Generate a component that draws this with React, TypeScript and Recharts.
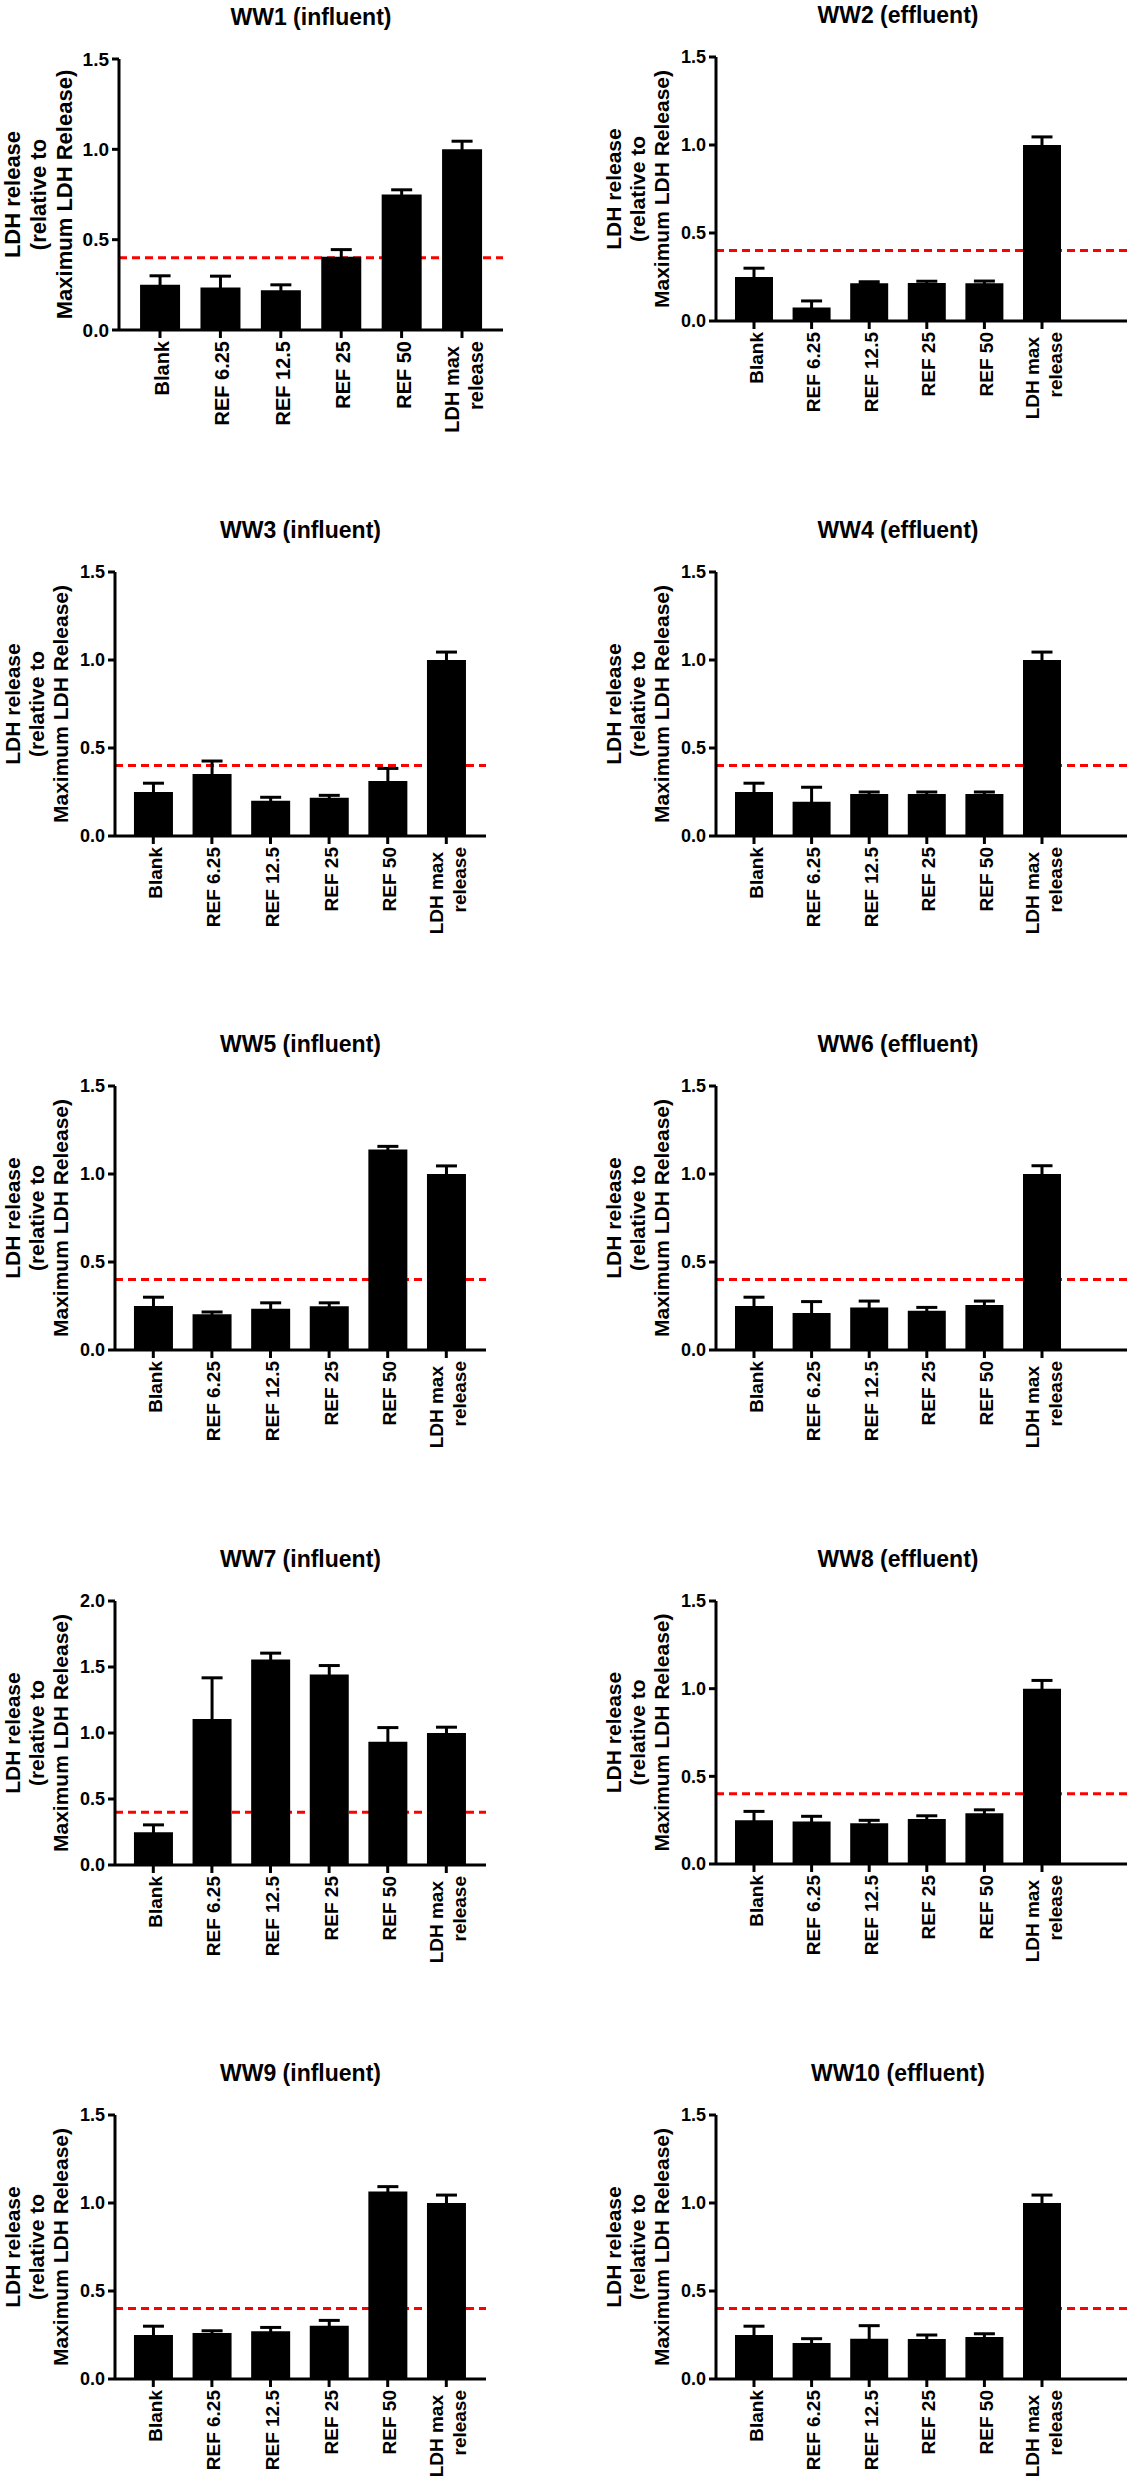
import React from "react";
import { BarChart, Bar, XAxis, YAxis, ErrorBar, ReferenceLine } from "recharts";

const FONT = "'Liberation Sans', Arial, Helvetica, sans-serif";
const PAGE_W = 1127;
const PAGE_H = 2482;

// Categories (x axis)
const categories = ["Blank", "REF 6.25", "REF 12.5", "REF 25", "REF 50", "LDH max\nrelease"];

// Mean values and SEM
const ww1Mean = [0.25, 0.235, 0.22, 0.405, 0.75, 1.0];
const ww1Err = [0.05, 0.063, 0.03, 0.04, 0.026, 0.045];
const ww2Mean = [0.25, 0.076, 0.215, 0.216, 0.215, 1.0];
const ww2Err = [0.05, 0.038, 0.008, 0.01, 0.012, 0.046];
const ww3Mean = [0.25, 0.352, 0.2, 0.218, 0.312, 1.0];
const ww3Err = [0.05, 0.074, 0.02, 0.013, 0.072, 0.045];
const ww4Mean = [0.25, 0.195, 0.239, 0.239, 0.239, 1.0];
const ww4Err = [0.05, 0.082, 0.011, 0.011, 0.011, 0.045];
const ww5Mean = [0.25, 0.203, 0.235, 0.249, 1.139, 1.0];
const ww5Err = [0.05, 0.013, 0.033, 0.019, 0.018, 0.046];
const ww6Mean = [0.25, 0.21, 0.241, 0.223, 0.256, 1.0];
const ww6Err = [0.05, 0.065, 0.037, 0.019, 0.022, 0.047];
const ww7Mean = [0.248, 1.106, 1.557, 1.443, 0.934, 1.0];
const ww7Err = [0.056, 0.312, 0.048, 0.068, 0.107, 0.044];
const ww8Mean = [0.25, 0.243, 0.232, 0.256, 0.29, 1.0];
const ww8Err = [0.05, 0.029, 0.017, 0.019, 0.019, 0.047];
const ww9Mean = [0.25, 0.261, 0.272, 0.303, 1.065, 1.0];
const ww9Err = [0.05, 0.013, 0.021, 0.03, 0.028, 0.045];
const ww10Mean = [0.25, 0.204, 0.229, 0.227, 0.238, 1.0];
const ww10Err = [0.05, 0.025, 0.074, 0.023, 0.019, 0.045];

// Axis ticks and threshold
const ticks15 = [0, 0.5, 1.0, 1.5];
const ticks20 = [0, 0.5, 1.0, 1.5, 2.0];
const threshold = 0.4;

const yLabelLines = ["LDH release", "(relative to", "Maximum LDH Release)"];

// layout: every chart gets the same svg size, plot area set through margins
const YW = 120; // y axis box width
const MT = 12; // top margin
const XH = 150; // x axis box height
const CW = 531; // chart width
const CH = 433; // chart height

const LEFT = { axisX: 115, right: 486, padL: 9, padR: 10.4, cx: 300.5 };
// right column runs off the page edge in the original figure
const RIGHT = { axisX: 716, right: 1127, padL: 9.2, padR: 56.2, cx: 898 };

type Panel = {
  id: string;
  title: string;
  mean: number[];
  err: number[];
  ticks: number[];
  top: number;
  bottom: number;
  axisX: number;
  right: number;
  padL: number;
  padR: number;
  cx: number;
  big?: boolean;
};

const panels: Panel[] = [
  { id: "ww1", title: "WW1 (influent)", mean: ww1Mean, err: ww1Err, ticks: ticks15, top: 59, bottom: 330, axisX: 119, right: 503, padL: 10.8, padR: 10.8, cx: 311, big: true },
  { id: "ww2", title: "WW2 (effluent)", mean: ww2Mean, err: ww2Err, ticks: ticks15, top: 57, bottom: 321, ...RIGHT },
  { id: "ww3", title: "WW3 (influent)", mean: ww3Mean, err: ww3Err, ticks: ticks15, top: 572, bottom: 836, ...LEFT },
  { id: "ww4", title: "WW4 (effluent)", mean: ww4Mean, err: ww4Err, ticks: ticks15, top: 572, bottom: 836, ...RIGHT },
  { id: "ww5", title: "WW5 (influent)", mean: ww5Mean, err: ww5Err, ticks: ticks15, top: 1086, bottom: 1350, ...LEFT },
  { id: "ww6", title: "WW6 (effluent)", mean: ww6Mean, err: ww6Err, ticks: ticks15, top: 1086, bottom: 1350, ...RIGHT },
  { id: "ww7", title: "WW7 (influent)", mean: ww7Mean, err: ww7Err, ticks: ticks20, top: 1601, bottom: 1865, ...LEFT },
  { id: "ww8", title: "WW8 (effluent)", mean: ww8Mean, err: ww8Err, ticks: ticks15, top: 1601, bottom: 1864, ...RIGHT },
  { id: "ww9", title: "WW9 (influent)", mean: ww9Mean, err: ww9Err, ticks: ticks15, top: 2115, bottom: 2379, ...LEFT },
  { id: "ww10", title: "WW10 (effluent)", mean: ww10Mean, err: ww10Err, ticks: ticks15, top: 2115, bottom: 2379, ...RIGHT },
];

const XTick = (props: any) => {
  const { x, y, payload, fs } = props;
  const lines = String(payload.value).split("\n");
  const gap = fs * 1.2;
  return (
    <g transform={`translate(${x},${y})`}>
      {lines.map((t: string, i: number) => {
        const b = fs * 0.45 + (i - (lines.length - 1) / 2) * gap;
        const endOff = lines.length > 1 && i === 0 ? 5 : 0;
        return (
          <text
            key={i}
            transform="rotate(-90)"
            x={-endOff}
            y={b}
            textAnchor="end"
            fontSize={fs}
            fontWeight="bold"
            fontFamily={FONT}
            fill="#000"
          >
            {t}
          </text>
        );
      })}
    </g>
  );
};

const YLabel = ({ cy, fs, offs }: { cy: number; fs: number; offs: number[] }) => (
  <g>
    {yLabelLines.map((t, i) => (
      <text
        key={i}
        transform={`translate(${YW + offs[i]},${cy}) rotate(-90)`}
        textAnchor="middle"
        fontSize={fs}
        fontWeight="bold"
        fontFamily={FONT}
        fill="#000"
      >
        {t}
      </text>
    ))}
  </g>
);

const PanelChart = ({ p }: { p: Panel }) => {
  const data = categories.map((name, i) => ({ name, mean: p.mean[i], err: p.err[i] }));
  const plotH = p.bottom - p.top;
  const plotW = p.right - p.axisX;
  const yMax = p.ticks[p.ticks.length - 1];
  const tickFs = p.big ? 19 : 18;
  const xFs = p.big ? 20 : 19;
  const labelFs = p.big ? 22 : 21;
  const offs = p.big ? [-99, -73, -47] : [-95, -71, -47];
  const chartTop = p.top - MT;
  const mr = CW - YW - plotW;
  const mb = CH - MT - plotH - XH;
  return (
    <>
      <div
        style={{
          position: "absolute",
          left: p.cx - 200,
          width: 400,
          top: p.top - 34 - 19.5,
          textAlign: "center",
          fontFamily: FONT,
          fontWeight: "bold",
          fontSize: 23,
          lineHeight: "23px",
          color: "#000",
        }}
      >
        {p.title}
      </div>
      <div style={{ position: "absolute", left: p.axisX - YW, top: chartTop, width: CW, height: CH }}>
        <BarChart
          id={`chart-${p.id}`}
          width={CW}
          height={CH}
          data={data}
          margin={{ top: MT, right: mr, bottom: mb, left: 0 }}
          barCategoryGap="17%"
        >
          <XAxis
            dataKey="name"
            type="category"
            height={XH}
            padding={{ left: p.padL, right: p.padR }}
            axisLine={{ stroke: "#000", strokeWidth: 3 }}
            tickLine={{ stroke: "#000", strokeWidth: 3 }}
            tickSize={8}
            tickMargin={3}
            interval={0}
            tick={(tp: any) => <XTick {...tp} fs={xFs} />}
          />
          <YAxis
            type="number"
            domain={[0, yMax]}
            ticks={p.ticks}
            width={YW}
            interval={0}
            tickFormatter={(v: number) => v.toFixed(1)}
            axisLine={{ stroke: "#000", strokeWidth: 3 }}
            tickLine={{ stroke: "#000", strokeWidth: 3 }}
            tickSize={7}
            tickMargin={3}
            tick={{ fill: "#000", fontSize: tickFs, fontWeight: "bold", fontFamily: FONT }}
            label={<YLabel cy={MT + plotH / 2} fs={labelFs} offs={offs} />}
          />
          <ReferenceLine
            y={threshold}
            stroke="#ff0000"
            strokeWidth={3}
            strokeDasharray="8 5"
            ifOverflow="visible"
            zIndex={250}
          />
          <Bar dataKey="mean" fill="#000" isAnimationActive={false}>
            <ErrorBar dataKey="err" direction="y" width={10.5} stroke="#000" strokeWidth={3} />
          </Bar>
        </BarChart>
      </div>
    </>
  );
};

export default function App() {
  return (
    <div
      style={{
        position: "absolute",
        left: 0,
        top: 0,
        width: PAGE_W,
        height: PAGE_H,
        overflow: "hidden",
        background: "#fff",
      }}
    >
      <style>{"html,body{margin:0;overflow:hidden}"}</style>
      {panels.map((p) => (
        <PanelChart key={p.id} p={p} />
      ))}
    </div>
  );
}
